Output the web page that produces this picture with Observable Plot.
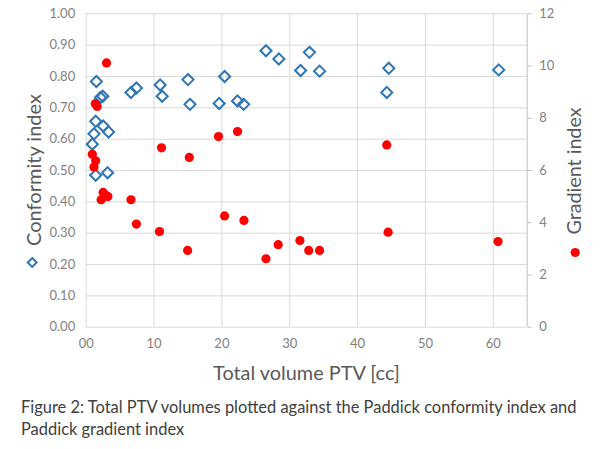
<!DOCTYPE html>
<html>
<head>
<meta charset="utf-8">
<script src="https://cdn.jsdelivr.net/npm/d3@7"></script>
<script src="https://cdn.jsdelivr.net/npm/@observablehq/plot@0.6"></script>
<style>
  html, body { margin: 0; padding: 0; background: #fff; }
  #chart svg { display: block; }
  #caption { font-family: Lato, "Open Sans", sans-serif; font-size: 16.5px; line-height: 22px; color: #404040; padding-left: 21px; white-space: nowrap; }
</style>
</head>
<body>
<div id="chart"></div>
<div id="caption"><span id="cap1">Figure 2: Total PTV volumes plotted against the Paddick conformity index and</span><br><span id="cap2">Paddick gradient index</span></div>
<script>
// Conformity index series (left axis)
const volumeCI = [1.5, 2.1, 2.45, 1.4, 2.5, 1.15, 3.3, 0.9, 1.4, 3.15, 6.6, 7.4, 10.9, 11.2, 15.0, 15.3, 19.6, 20.4, 22.3, 23.2, 26.5, 28.4, 31.6, 32.9, 34.4, 44.6, 44.3, 60.8];
const conformity = [0.784, 0.733, 0.737, 0.657, 0.642, 0.617, 0.623, 0.584, 0.485, 0.493, 0.749, 0.763, 0.773, 0.737, 0.790, 0.711, 0.714, 0.800, 0.722, 0.711, 0.882, 0.856, 0.819, 0.877, 0.817, 0.826, 0.749, 0.821];

// Gradient index series (right axis)
const volumeGI = [3.0, 1.33, 1.62, 0.9, 1.4, 1.15, 11.1, 15.2, 19.5, 22.3, 2.2, 2.5, 2.9, 3.2, 6.6, 7.4, 10.8, 14.95, 20.4, 23.25, 26.5, 28.3, 31.5, 32.8, 34.4, 44.5, 60.7, 44.3];
const gradient = [10.12, 8.56, 8.45, 6.62, 6.37, 6.13, 6.87, 6.5, 7.3, 7.49, 4.88, 5.16, 5.05, 5.0, 4.88, 3.95, 3.66, 2.94, 4.26, 4.09, 2.62, 3.16, 3.32, 2.94, 2.94, 3.64, 3.28, 6.98];

// Axes
const xTicks = [0, 10, 20, 30, 40, 50, 60];
const xTickLabels = ["00", "10", "20", "30", "40", "50", "60"];
const conformityTicks = [0, 0.1, 0.2, 0.3, 0.4, 0.5, 0.6, 0.7, 0.8, 0.9, 1.0];
const gradientTicks = [0, 2, 4, 6, 8, 10, 12];
const gradientMax = 12;
const xMax = 65;

const titleX = "Total volume PTV [cc]";
const titleLeft = "Conformity index";
const titleRight = "Gradient index";

const ciData = volumeCI.map((v, i) => ({volume: v, value: conformity[i]}));
const giData = volumeGI.map((v, i) => ({volume: v, value: gradient[i] / gradientMax}));

const blue = "#2E75B6";
const red = "#FF0000";
const grid = "#d9d9d9";
const tickColor = "#7f7f7f";
const titleColor = "#595959";

const W = 600, H = 396, mL = 85.7, mR = 73.3, mT = 13.3, mB = 69.3;

const chart = Plot.plot({
  width: W,
  height: H,
  marginLeft: mL,
  marginRight: mR,
  marginTop: mT,
  marginBottom: mB,
  style: {fontFamily: "Lato, 'Open Sans', sans-serif", fontSize: "13px", color: tickColor, background: "#fff"},
  x: {domain: [0, xMax], label: null},
  y: {domain: [0, 1], label: null},
  marks: [
    Plot.gridY(conformityTicks, {stroke: grid, strokeOpacity: 1, strokeWidth: 1}),
    Plot.gridX(xTicks, {stroke: grid, strokeOpacity: 1, strokeWidth: 1}),
    Plot.ruleX([xMax], {stroke: "#bfbfbf", strokeWidth: 1}),
    Plot.axisX(xTicks, {tickSize: 0, tickPadding: 12, tickFormat: d => xTickLabels[xTicks.indexOf(d)], fill: tickColor, label: null}),
    Plot.axisY(conformityTicks, {anchor: "left", tickSize: 0, tickPadding: 11, tickFormat: d3.format(".2f"), fill: tickColor, label: null}),
    Plot.axisY(gradientTicks.map(t => t / gradientMax), {anchor: "right", tickSize: 4, tickPadding: 8, stroke: "#bfbfbf", fill: tickColor, tickFormat: d => String(Math.round(d * gradientMax)), label: null}),
    Plot.dot(ciData, {x: "volume", y: "value", symbol: "diamond2", r: 5, stroke: blue, strokeWidth: 2, fill: "none"}),
    Plot.dot(giData, {x: "volume", y: "value", symbol: "circle", r: 4.6, fill: red, stroke: "none"}),
    // legend symbols
    Plot.dot([titleLeft], {frameAnchor: "left", dx: -54, dy: 92, symbol: "diamond2", r: 4, stroke: blue, strokeWidth: 2, fill: "none"}),
    Plot.dot([titleRight], {frameAnchor: "right", dx: 48, dy: 82, symbol: "circle", r: 4.6, fill: red, stroke: "none"})
  ]
});
document.getElementById("chart").appendChild(chart);

// Axis titles, sized to the reference's text lengths
const svg = d3.select(chart);
function title(text, x, y, rotate, target) {
  const t = svg.append("text")
    .attr("transform", `translate(${x},${y}) rotate(${rotate})`)
    .attr("text-anchor", "middle")
    .attr("dominant-baseline", "central")
    .attr("fill", titleColor)
    .style("font-family", "Lato, 'Open Sans', sans-serif")
    .style("font-size", "20px")
    .text(text);
  const len = t.node().getComputedTextLength();
  if (len > 0) t.style("font-size", (20 * target / len).toFixed(2) + "px");
}
title(titleX, 306.5, 372, 0, 187);
title(titleLeft, 33, 170, -90, 152);
title(titleRight, 573, 171, -90, 127);

// caption first line fitted to reference width
const cap1 = document.getElementById("cap1");
const w = cap1.getBoundingClientRect().width;
if (w > 0) document.getElementById("caption").style.fontSize = (16.5 * 556 / w).toFixed(2) + "px";
</script>
</body>
</html>
